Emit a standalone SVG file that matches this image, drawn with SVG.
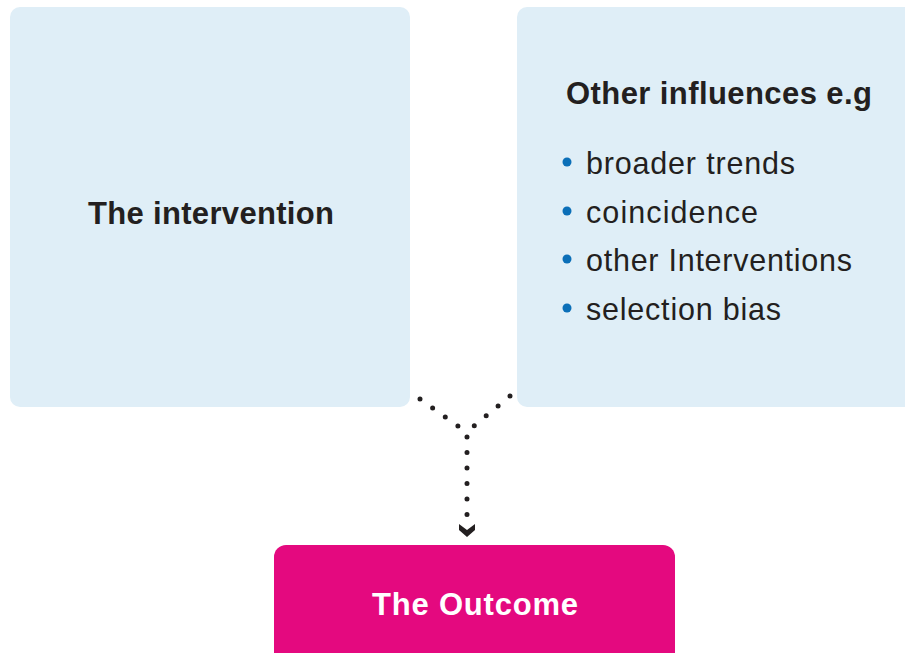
<svg xmlns="http://www.w3.org/2000/svg" width="905" height="653" viewBox="0 0 905 653">
<style>
.box{fill:#dfeef7}
.t{font-family:"Liberation Sans",Arial,sans-serif;fill:#231f20}
.b{font-weight:bold;font-size:31px}
.r{font-size:30.5px}
.dot{fill:#0b6fb8}
.conn{fill:none;stroke:#231f20;stroke-width:5;stroke-linecap:round;stroke-dasharray:0 15.5}
</style>
<rect width="905" height="653" fill="#ffffff"/>
<g id="intervention">
<rect class="box" x="10" y="7" width="400" height="400" rx="10"/>
<text class="t b" x="88" y="224" textLength="246" lengthAdjust="spacing">The intervention</text>
</g>
<g id="influences">
<rect class="box" x="517" y="7" width="400" height="400" rx="10"/>
<text class="t b" x="566" y="104" textLength="306" lengthAdjust="spacing">Other influences e.g</text>
<circle class="dot" cx="567" cy="162" r="4.5"/>
<circle class="dot" cx="567" cy="211" r="4.5"/>
<circle class="dot" cx="567" cy="259" r="4.5"/>
<circle class="dot" cx="567" cy="308" r="4.5"/>
<text class="t r" x="586" y="174" textLength="209" lengthAdjust="spacing">broader trends</text>
<text class="t r" x="586" y="223" textLength="172" lengthAdjust="spacing">coincidence</text>
<text class="t r" x="586" y="271" textLength="266" lengthAdjust="spacing">other Interventions</text>
<text class="t r" x="586" y="320" textLength="195" lengthAdjust="spacing">selection bias</text>
</g>
<g id="outcome">
<rect x="274" y="545" width="401" height="130" rx="12" fill="#e4097f"/>
<text class="t b" x="372" y="615" textLength="206" lengthAdjust="spacing" style="fill:#ffffff">The Outcome</text>
</g>
<g id="connectors">
<path class="conn" d="M420,399 L458,426"/>
<path class="conn" d="M510,396 L474,426"/>
<path class="conn" d="M467,437 L467,517"/>
<path d="M459,524 L467,530 L475,524 L475,530 L467,537 L459,530 Z" fill="#231f20"/>
</g>
</svg>
